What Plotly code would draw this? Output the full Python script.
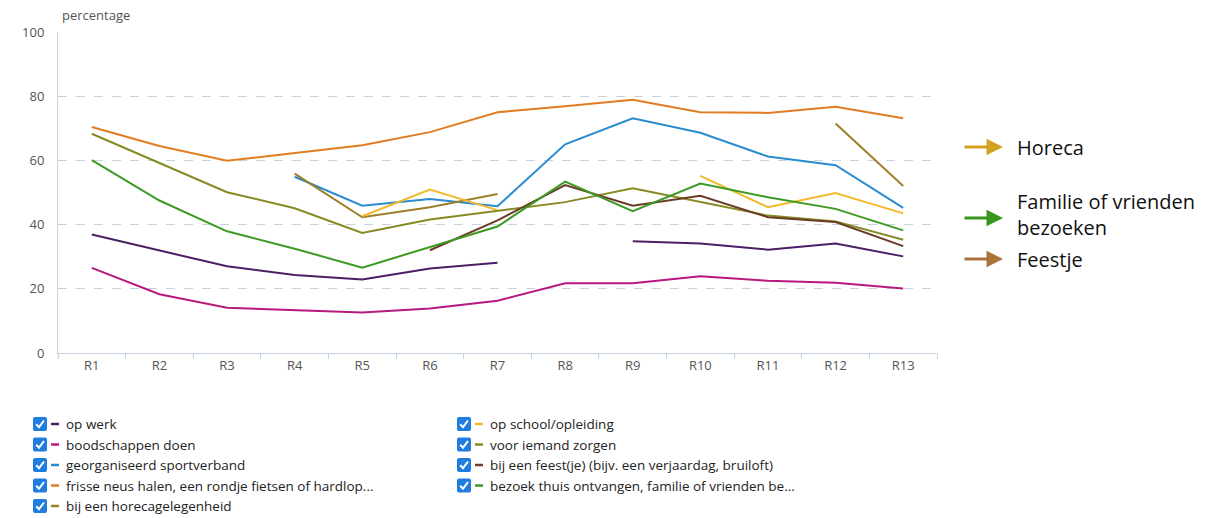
import plotly.graph_objects as go

categories = ["R1", "R2", "R3", "R4", "R5", "R6", "R7", "R8", "R9", "R10", "R11", "R12", "R13"]

op_werk = [36.9, 32.0, 27.0, 24.3, 22.9, 26.3, 28.1, None, 34.8, 34.1, 32.2, 34.1, 30.1]
boodschappen = [26.5, 18.3, 14.1, 13.4, 12.6, 13.9, 16.3, 21.7, 21.7, 23.9, 22.5, 21.9, 20.1]
sportverband = [None, None, None, 54.9, 45.9, 48.0, 45.7, 65.0, 73.1, 68.6, 61.2, 58.5, 45.2]
frisse_neus = [70.4, 64.5, 59.9, 62.4, 64.7, 68.8, 75.0, 76.9, 78.9, 75.0, 74.8, 76.7, 73.1]
horeca = [None, None, None, 55.9, 42.3, 45.4, 49.5, None, None, None, None, 71.5, 52.0]
op_school = [None, None, None, None, 42.6, 50.9, 44.5, None, None, 55.2, 45.4, 49.8, 43.5]
iemand_zorgen = [68.3, 59.3, 50.1, 45.1, 37.4, 41.6, 44.4, 47.0, 51.3, 47.0, 42.8, 41.0, 35.3]
feest = [None, None, None, None, None, 32.0, 41.3, 52.3, 45.9, 49.0, 42.3, 40.8, 33.3]
bezoek = [60.1, 47.5, 37.9, 32.5, 26.6, 33.0, 39.4, 53.4, 44.2, 52.8, 48.5, 44.9, 38.2]

series_names = [
    "op werk",
    "boodschappen doen",
    "georganiseerd sportverband",
    "frisse neus halen, een rondje fietsen of hardlop...",
    "bij een horecagelegenheid",
    "op school/opleiding",
    "voor iemand zorgen",
    "bij een feest(je) (bijv. een verjaardag, bruiloft)",
    "bezoek thuis ontvangen, familie of vrienden be...",
]
series_values = [op_werk, boodschappen, sportverband, frisse_neus, horeca,
                 op_school, iemand_zorgen, feest, bezoek]
series_colors = ["#4a1f63", "#b8197f", "#2a8ccf", "#e27c22", "#9c7f27",
                 "#f2b92c", "#878a22", "#6b3b27", "#3c9a22"]

y_ticks = [0, 20, 40, 60, 80, 100]

callout_labels = ["Horeca", "Familie of vrienden<br>bezoeken", "Feestje"]
callout_colors = ["#d2a21f", "#3a951c", "#a8743c"]

# plot area in pixels
W, H = 1227, 518
L, R, T, B = 58, 937, 32, 353


def px(x):
    return (x - L) / (R - L)


def py(y):
    return (B - y) / (B - T)


fig = go.Figure()
for name, vals, col in zip(series_names, series_values, series_colors):
    fig.add_trace(go.Scatter(
        x=categories, y=vals, name=name, mode="lines",
        line=dict(color=col, width=2), connectgaps=False, showlegend=False))

shapes = []
annotations = []

# custom legend with checkboxes
rows_y = [424, 444.5, 465, 485.5, 506]
col_x = [33, 457]
for i, (name, col) in enumerate(zip(series_names, series_colors)):
    c = 0 if i < 5 else 1
    r = i if i < 5 else i - 5
    cx, cy = col_x[c], rows_y[r]
    x0, x1, y0, y1 = cx, cx + 14, cy - 7, cy + 7
    rad = 2
    path = (f"M {px(x0+rad)},{py(y0)} L {px(x1-rad)},{py(y0)} Q {px(x1)},{py(y0)} {px(x1)},{py(y0+rad)} "
            f"L {px(x1)},{py(y1-rad)} Q {px(x1)},{py(y1)} {px(x1-rad)},{py(y1)} "
            f"L {px(x0+rad)},{py(y1)} Q {px(x0)},{py(y1)} {px(x0)},{py(y1-rad)} "
            f"L {px(x0)},{py(y0+rad)} Q {px(x0)},{py(y0)} {px(x0+rad)},{py(y0)} Z")
    shapes.append(dict(type="path", xref="paper", yref="paper", path=path,
                       fillcolor="#1f7de0", line=dict(width=0), layer="above"))
    check = f"M {px(cx+3.2)},{py(cy+0.3)} L {px(cx+6)},{py(cy+3.2)} L {px(cx+11)},{py(cy-3.5)}"
    shapes.append(dict(type="path", xref="paper", yref="paper", path=check,
                       line=dict(color="white", width=2), layer="above"))
    shapes.append(dict(type="line", xref="paper", yref="paper",
                       x0=px(cx + 18), x1=px(cx + 26), y0=py(cy), y1=py(cy),
                       line=dict(color=col, width=2.5), layer="above"))
    annotations.append(dict(xref="paper", yref="paper", x=px(cx + 31), y=py(cy),
                            text=name, showarrow=False, xanchor="left", yanchor="middle",
                            font=dict(size=13.5, color="#222222")))

# y axis title
annotations.append(dict(xref="paper", yref="paper", x=px(60), y=py(15), text="percentage",
                        showarrow=False, xanchor="left", yanchor="middle",
                        font=dict(size=13, color="#555555")))

# callouts on the right
arrow_y = [147, 218, 259]
text_y = [147, 215, 259]
for lab, col, ay_, ty in zip(callout_labels, callout_colors, arrow_y, text_y):
    annotations.append(dict(xref="paper", yref="paper", axref="pixel", ayref="pixel",
                            x=px(1003), y=py(ay_), ax=-40, ay=0, text="",
                            showarrow=True, arrowhead=2, arrowsize=1.1, arrowwidth=3,
                            arrowcolor=col))
    annotations.append(dict(xref="paper", yref="paper", x=px(1015), y=py(ty), text=lab,
                            showarrow=False, xanchor="left", yanchor="middle", align="left",
                            font=dict(size=20, color="#111111")))

fig.update_layout(
    width=W, height=H,
    margin=dict(l=L, r=W - R, t=T, b=H - B),
    paper_bgcolor="white", plot_bgcolor="white",
    font=dict(family="Open Sans, sans-serif", color="#555555", size=12),
    shapes=shapes, annotations=annotations,
    xaxis=dict(type="category", categoryorder="array", categoryarray=categories,
               showgrid=False, showline=True, linecolor="#c5d3e0", linewidth=1,
               ticks="outside", tickson="boundaries", ticklen=5, tickcolor="#c5d3e0",
               tickfont=dict(size=13, color="#555555"), range=[-0.5, 12.5], fixedrange=True),
    yaxis=dict(range=[0, 100], tickvals=y_ticks, showgrid=True, gridcolor="#c8d2de",
               griddash="dash", gridwidth=1, showline=True, linecolor="#c5d3e0", linewidth=1,
               zeroline=False, ticks="", ticklabelstandoff=10,
               tickfont=dict(size=13, color="#555555")),
    showlegend=False,
)

fig.write_html("out.html", config={"displayModeBar": False},
               post_script="document.body.style.margin='0px';document.body.style.overflow='hidden';")
